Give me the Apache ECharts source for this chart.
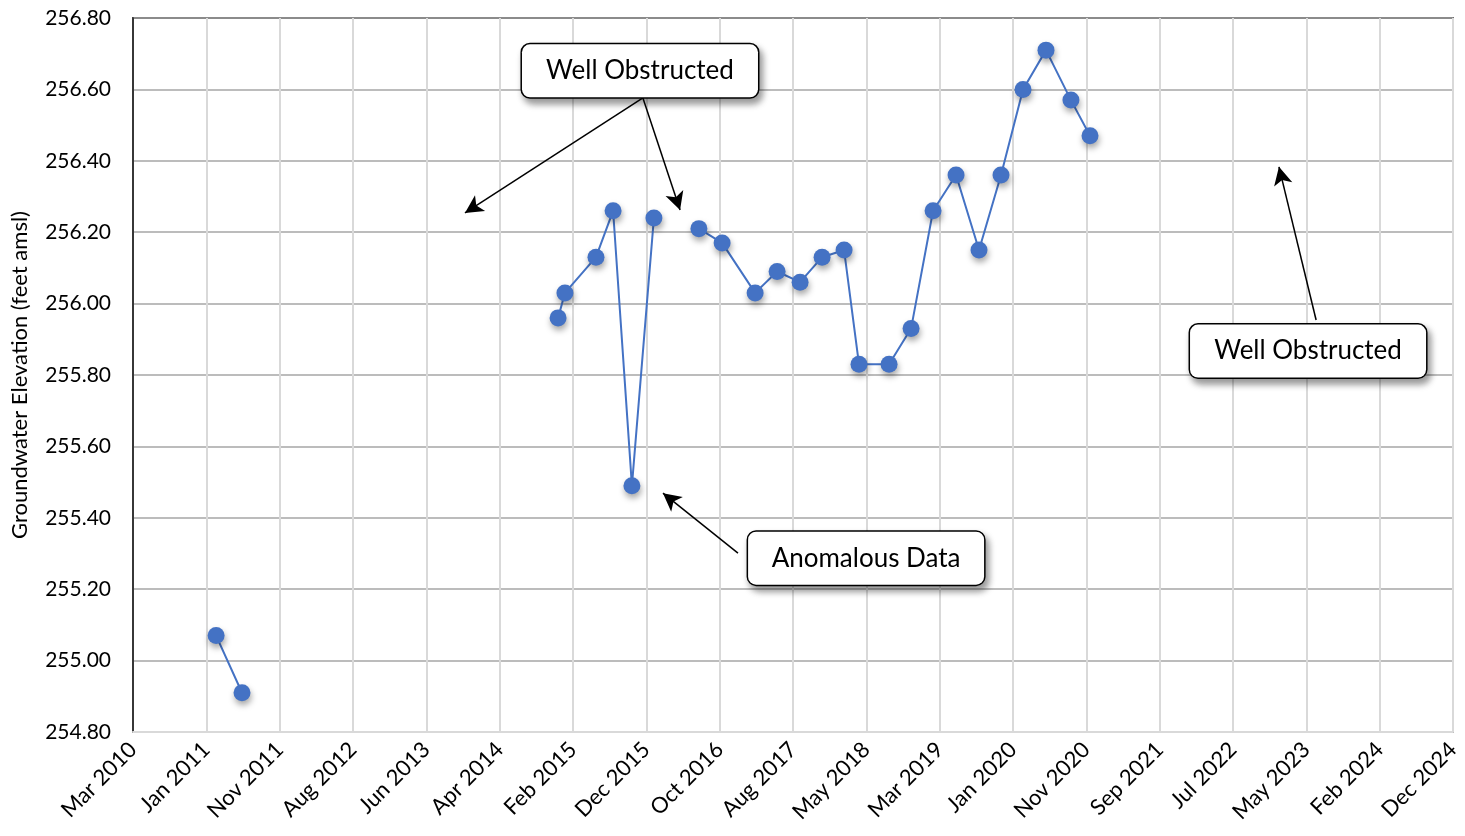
<!DOCTYPE html>
<html>
<head>
<meta charset="utf-8">
<script src="https://cdn.jsdelivr.net/npm/echarts@6/dist/echarts.min.js"></script>
<style>
  html, body { margin: 0; padding: 0; background: #fff; }
  #main { width: 1465px; height: 836px; }
</style>
</head>
<body>
<div id="main"></div>
<script>
// x axis runs in days counted from this date, 300 day steps
const axisStart = Date.UTC(2010, 2, 13);
const axisSpan = 5400;
const axisStep = 300;
const monthNames = ['Jan', 'Feb', 'Mar', 'Apr', 'May', 'Jun', 'Jul', 'Aug', 'Sep', 'Oct', 'Nov', 'Dec'];

// sample dates and groundwater elevations (null = break in line)
const sampleDates = [
    '2011-02-16', '2011-06-02', '2013-01-01',
    '2014-12-16', '2015-01-13', '2015-05-20', '2015-07-29', '2015-10-14', '2016-01-12',
    '2016-04-01',
    '2016-07-14', '2016-10-17', '2017-03-01', '2017-05-30', '2017-09-01', '2017-11-30',
    '2018-02-28', '2018-04-30', '2018-08-31', '2018-11-29', '2019-02-27', '2019-06-01',
    '2019-09-03', '2019-12-02', '2020-03-01', '2020-06-03', '2020-09-13', '2020-11-30'
];
const elevations = [
    255.07, 254.91, null,
    255.96, 256.03, 256.13, 256.26, 255.49, 256.24,
    null,
    256.21, 256.17, 256.03, 256.09, 256.06, 256.13,
    256.15, 255.83, 255.83, 255.93, 256.26, 256.36,
    256.15, 256.36, 256.60, 256.71, 256.57, 256.47
];

// callout boxes: [text, x (days), y]
const calloutBoxes = [
    ['Well Obstructed', 2074, 256.652],
    ['Well Obstructed', 4807, 255.867],
    ['Anomalous Data', 2999, 255.287]
];
// arrows: [fromX, fromY, toX, toY]
const calloutArrows = [
    [2086, 256.576, 1358, 256.254],
    [2086, 256.576, 2238, 256.262],
    [4840, 255.954, 4688, 256.383],
    [2475, 255.301, 2168, 255.469]
];

function toDays(s) {
    const p = s.split('-');
    return (Date.UTC(+p[0], +p[1] - 1, +p[2]) - axisStart) / 86400000;
}

function dayLabel(v) {
    const d = new Date(axisStart + v * 86400000);
    return monthNames[d.getUTCMonth()] + ' ' + d.getUTCFullYear();
}

let seriesData = [];
for (let i = 0; i < sampleDates.length; i++) {
    seriesData.push([toDays(sampleDates[i]), elevations[i] === null ? '-' : elevations[i]]);
}

const fontName = 'Lato, "Open Sans", sans-serif';
const blue = '#4472C4';

let chart = echarts.init(document.getElementById('main'));
let option = {
    animation: false,
    backgroundColor: '#fff',
    grid: {
        left: 133, right: 12, top: 18, bottom: 104,
        show: true,
        borderColor: '#000',
        borderWidth: 1.5
    },
    xAxis: {
        type: 'value',
        min: 0,
        max: axisSpan,
        interval: axisStep,
        axisLine: { show: true, lineStyle: { color: '#d9d9d9', width: 2 } },
        axisTick: { show: false },
        splitLine: { show: true, lineStyle: { color: '#d9d9d9', width: 2 } },
        axisLabel: {
            rotate: 45,
            margin: 14,
            fontSize: 22,
            color: '#000',
            fontFamily: fontName,
            formatter: dayLabel,
            showMinLabel: true,
            showMaxLabel: true
        }
    },
    yAxis: {
        type: 'value',
        min: 254.8,
        max: 256.8,
        interval: 0.2,
        name: 'Groundwater Elevation (feet amsl)',
        nameLocation: 'middle',
        nameGap: 102,
        nameTextStyle: { fontSize: 22, color: '#000', fontFamily: fontName },
        axisLine: { show: true, lineStyle: { color: '#000', width: 1.5 } },
        axisTick: { show: false },
        splitLine: { show: true, lineStyle: { color: '#a6a6a6', width: 1.5 } },
        axisLabel: {
            fontSize: 21,
            color: '#000',
            margin: 22,
            fontFamily: fontName,
            formatter: function (v) { return v.toFixed(2); }
        }
    },
    series: [{
        name: 'Elevation',
        type: 'line',
        data: seriesData,
        connectNulls: false,
        symbol: 'circle',
        symbolSize: 17,
        lineStyle: { color: blue, width: 2 },
        itemStyle: {
            color: blue,
            shadowBlur: 6,
            shadowOffsetX: 1,
            shadowOffsetY: 4,
            shadowColor: 'rgba(0,0,0,0.35)'
        },
        z: 3,
        markLine: {
            silent: true,
            symbol: ['none', 'arrow'],
            symbolSize: [14, 18],
            lineStyle: { color: '#000', width: 1.5, type: 'solid' },
            label: { show: false },
            data: calloutArrows.map(function (a) {
                return [{ coord: [a[0], a[1]] }, { coord: [a[2], a[3]] }];
            })
        },
        markPoint: {
            silent: true,
            symbol: 'rect',
            symbolSize: 0,
            label: {
                show: true,
                position: 'inside',
                color: '#000',
                fontSize: 26,
                fontFamily: fontName,
                backgroundColor: '#fff',
                borderColor: '#000',
                borderWidth: 1.5,
                borderRadius: 8,
                width: 236,
                height: 47,
                lineHeight: 47,
                align: 'center',
                verticalAlign: 'middle',
                padding: [6, 0, 0, 0],
                shadowBlur: 7,
                shadowOffsetX: 3,
                shadowOffsetY: 5,
                shadowColor: 'rgba(0,0,0,0.4)',
                formatter: function (p) { return p.name; }
            },
            data: calloutBoxes.map(function (b) {
                return { name: b[0], coord: [b[1], b[2]] };
            })
        }
    }]
};
chart.setOption(option);
</script>
</body>
</html>
